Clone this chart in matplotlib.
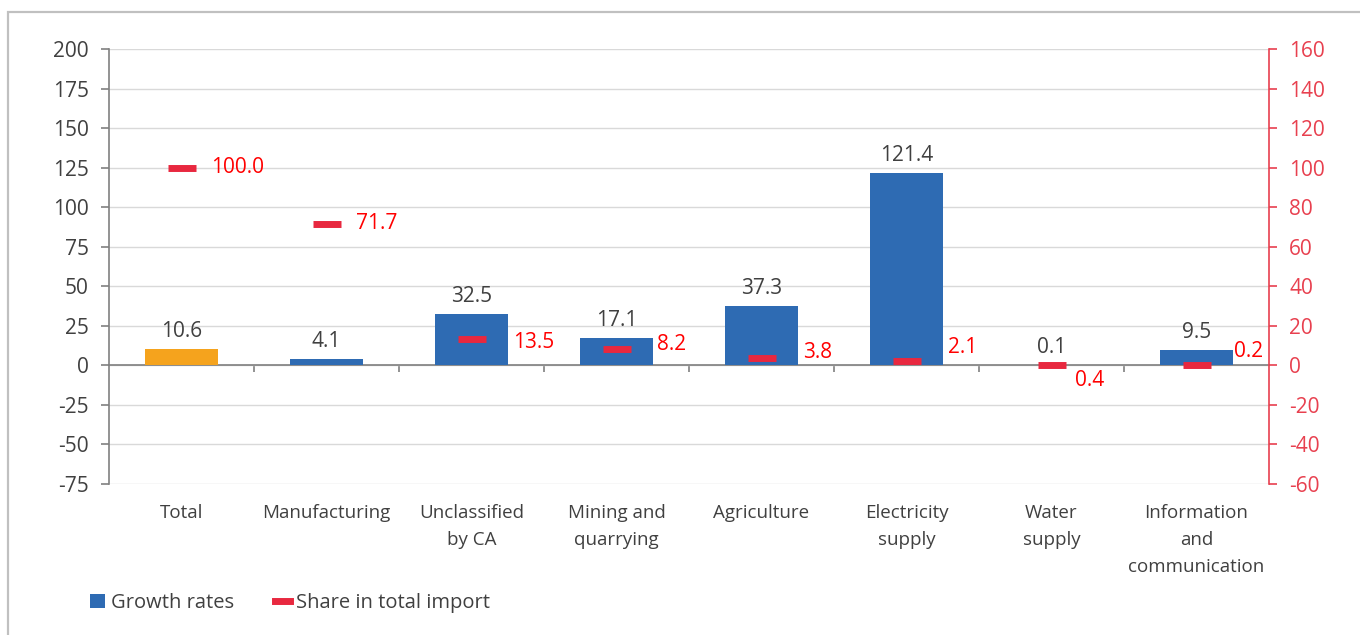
import numpy as np
import matplotlib.pyplot as plt
from matplotlib.patches import Patch, Rectangle
from matplotlib.lines import Line2D

plt.rcParams['font.family'] = ['Open Sans', 'DejaVu Sans']
plt.rcParams['axes.unicode_minus'] = False

categories = ['Total', 'Manufacturing', 'Unclassified\nby CA', 'Mining and\nquarrying',
              'Agriculture', 'Electricity\nsupply', 'Water\nsupply',
              'Information\nand\ncommunication']
growth = [10.6, 4.1, 32.5, 17.1, 37.3, 121.4, 0.1, 9.5]
share = [100.0, 71.7, 13.5, 8.2, 3.8, 2.1, 0.4, 0.2]

# label nudges (points) for the share values so they stay clear of bars and markers
share_dx = [21, 21.5, 30, 29, 30, 30, 17, 27]
share_dy = [0, 0, -3, 3.6, 3.6, 10, -11.5, 9.4]

blue = '#2e6bb3'
orange = '#f5a31d'
red_mark = '#e8283f'
red_axis = '#e8404f'
grey_txt = '#404040'
fs = 15

fig = plt.figure(figsize=(13.6, 6.35), dpi=100)
# outer frame
fig.patches.append(Rectangle((8 / 1360, -0.2), 1.2, 1.2 - 12 / 635,
                             transform=fig.transFigure, fill=False,
                             edgecolor='#c0c0c0', lw=1.6))

ax = fig.add_axes([109 / 1360, (635 - 484) / 635, (1269 - 109) / 1360, 435 / 635])
x = np.arange(len(categories))
colors = [orange] + [blue] * (len(categories) - 1)
ax.bar(x, growth, width=0.5, color=colors, zorder=3)
for xi, g in zip(x, growth):
    ax.annotate(f'{g:.1f}', (xi, g), xytext=(0, 5), textcoords='offset points',
                ha='center', va='bottom', fontsize=fs, color=grey_txt)

ax.set_xlim(-0.5, len(categories) - 0.5)
ax.set_ylim(-75, 200)
ax.set_yticks(np.arange(-75, 201, 25))
ax.grid(axis='y', color='#d9d9d9', lw=1, zorder=0)
ax.set_axisbelow(True)

for s in ['top', 'right']:
    ax.spines[s].set_visible(False)
ax.spines['left'].set_color('#808080')
ax.spines['left'].set_linewidth(1.2)
ax.spines['bottom'].set_position(('data', 0))
ax.spines['bottom'].set_color('#808080')
ax.spines['bottom'].set_linewidth(1.2)
ax.set_xticks(x)
ax.set_xticklabels([])
ax.tick_params(axis='x', which='major', length=0)
ax.set_xticks(x[:-1] + 0.5, minor=True)
ax.tick_params(axis='x', which='minor', length=5, width=1.2, color='#808080', direction='out')
ax.tick_params(axis='y', length=5.5, width=1.2, color='#808080', labelcolor=grey_txt,
               labelsize=fs, pad=9)

for xi, name in zip(x, categories):
    ax.text(xi, -0.047, name, transform=ax.get_xaxis_transform(), ha='center', va='top',
            fontsize=13.5, color=grey_txt, linespacing=1.62)

ax2 = ax.twinx()
ax2.set_ylim(-60, 160)
ax2.set_yticks(np.arange(-60, 161, 20))
for s in ['top', 'left', 'bottom']:
    ax2.spines[s].set_visible(False)
ax2.spines['right'].set_color(red_axis)
ax2.spines['right'].set_linewidth(1.2)
ax2.tick_params(axis='y', length=5.5, width=1.2, color=red_axis, labelcolor=red_axis,
                labelsize=fs, pad=9)
ax2.plot(x, share, linestyle='none', marker='_', markersize=20, mew=5,
         color=red_mark, zorder=4)
for xi, sv, dx, dy in zip(x, share, share_dx, share_dy):
    ax2.annotate(f'{sv:.1f}', (xi, sv), xytext=(dx, dy), textcoords='offset points',
                 ha='left', va='center', fontsize=fs, color='#ff0000')

handles = [Patch(facecolor=blue, edgecolor='none'),
           Line2D([], [], color=red_mark, lw=5)]
fig.legend(handles, ['Growth rates', 'Share in total import'], loc='center left',
           bbox_to_anchor=(82 / 1360, (635 - 603) / 635), ncol=2, frameon=False,
           fontsize=14.5, handlelength=0.75, handleheight=0.75, handletextpad=0.3,
           columnspacing=2.0, labelcolor=grey_txt, borderaxespad=0)

fig.savefig('out.png', dpi=100)
